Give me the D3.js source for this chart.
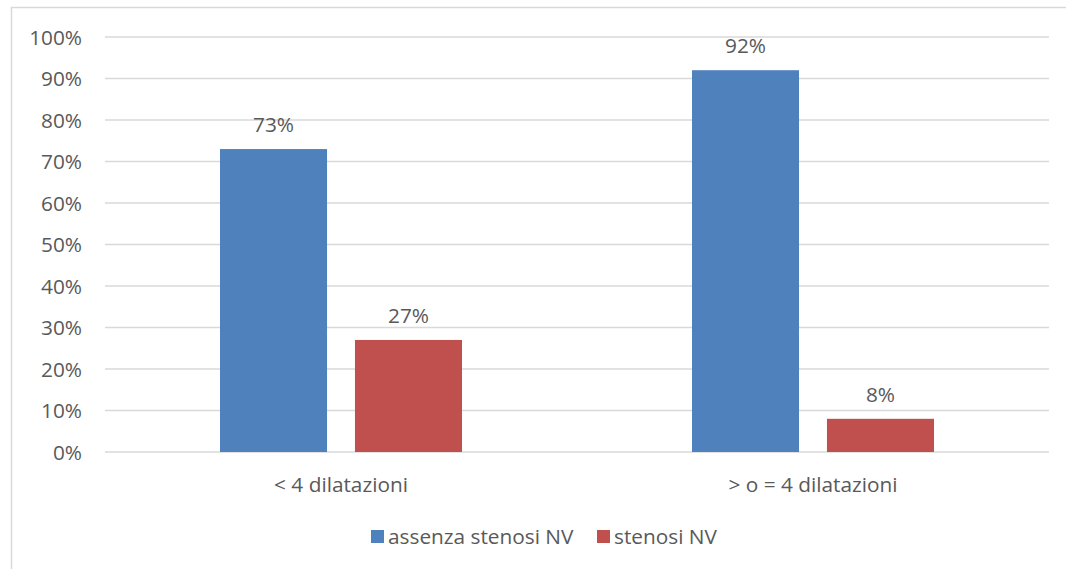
<!DOCTYPE html>
<html>
<head>
<meta charset="utf-8">
<script src="https://cdn.jsdelivr.net/npm/d3@7"></script>
<style>
  body { margin: 0; background: #fff; }
  svg text { font-family: "Open Sans", Lato, sans-serif; fill: #595959; }
</style>
</head>
<body>
<div id="chart"></div>
<script>
// data
var categories = ["< 4 dilatazioni", "> o = 4 dilatazioni"];
var seriesNames = ["assenza stenosi NV", "stenosi NV"];
var assenzaValues = [0.73, 0.92];
var stenosiValues = [0.27, 0.08];
var seriesColors = ["#4F81BD", "#C0504D"];
var yTicks = [0, 0.1, 0.2, 0.3, 0.4, 0.5, 0.6, 0.7, 0.8, 0.9, 1.0];

var width = 1066, height = 569;
var margin = {top: 37, right: 17, bottom: 117, left: 105};
var fontSize = "20.8px";

var svg = d3.select("#chart").append("svg")
    .attr("width", width)
    .attr("height", height);

// chart frame
svg.append("rect")
    .attr("x", 11.5).attr("y", 7.5)
    .attr("width", width + 10).attr("height", height + 10)
    .attr("fill", "none")
    .attr("stroke", "#D9D9D9")
    .attr("stroke-width", 1.5);

var x = d3.scaleBand()
    .domain(categories)
    .range([margin.left, width - margin.right]);

var x1 = d3.scaleBand()
    .domain(seriesNames)
    .range([0, 242])
    .paddingInner(0.207);

var y = d3.scaleLinear()
    .domain([0, 1])
    .range([height - margin.bottom, margin.top]);

// gridlines
svg.append("g").selectAll("line")
    .data(yTicks)
    .enter().append("line")
    .attr("x1", margin.left)
    .attr("x2", width - margin.right)
    .attr("y1", function(d) { return y(d); })
    .attr("y2", function(d) { return y(d); })
    .attr("stroke", "#D9D9D9")
    .attr("stroke-width", 1.5);

// y axis labels
var yAxis = d3.axisLeft(y)
    .tickValues(yTicks)
    .tickFormat(d3.format(".0%"))
    .tickSize(0)
    .tickPadding(0);
var gy = svg.append("g")
    .attr("transform", "translate(82,0)")
    .call(yAxis);
gy.select(".domain").remove();
gy.selectAll("text")
    .style("font-size", fontSize)
    .attr("dy", "0.35em");

// x axis labels
var xAxis = d3.axisBottom(x).tickSize(0).tickPadding(0);
var gx = svg.append("g")
    .attr("transform", "translate(0," + (height - margin.bottom + 25) + ")")
    .call(xAxis);
gx.select(".domain").remove();
gx.selectAll("text")
    .style("font-size", fontSize)
    .attr("dy", "0.71em");

// bars
var rows = categories.map(function(c, i) {
    return [
        {cat: c, series: seriesNames[0], value: assenzaValues[i], color: seriesColors[0]},
        {cat: c, series: seriesNames[1], value: stenosiValues[i], color: seriesColors[1]}
    ];
});

var groups = svg.append("g").selectAll("g")
    .data(rows)
    .enter().append("g")
    .attr("transform", function(d) {
        return "translate(" + (x(d[0].cat) + (x.bandwidth() - 242) / 2) + ",0)";
    });

groups.selectAll("rect")
    .data(function(d) { return d; })
    .enter().append("rect")
    .attr("x", function(d) { return x1(d.series); })
    .attr("y", function(d) { return y(d.value); })
    .attr("width", x1.bandwidth())
    .attr("height", function(d) { return y(0) - y(d.value); })
    .attr("fill", function(d) { return d.color; });

groups.selectAll("text")
    .data(function(d) { return d; })
    .enter().append("text")
    .attr("x", function(d) { return x1(d.series) + x1.bandwidth() / 2; })
    .attr("y", function(d) { return y(d.value) - 24; })
    .attr("dy", "0.35em")
    .attr("text-anchor", "middle")
    .style("font-size", fontSize)
    .text(function(d) { return d3.format(".0%")(d.value); });

// legend
var legendX = [371, 597];
var legend = svg.append("g").selectAll("g")
    .data(seriesNames)
    .enter().append("g")
    .attr("transform", function(d, i) { return "translate(" + legendX[i] + ",530)"; });
legend.append("rect")
    .attr("width", 13).attr("height", 13)
    .attr("fill", function(d, i) { return seriesColors[i]; });
legend.append("text")
    .attr("x", 17)
    .attr("y", 7)
    .attr("dy", "0.35em")
    .style("font-size", fontSize)
    .text(function(d) { return d; });
</script>
</body>
</html>
